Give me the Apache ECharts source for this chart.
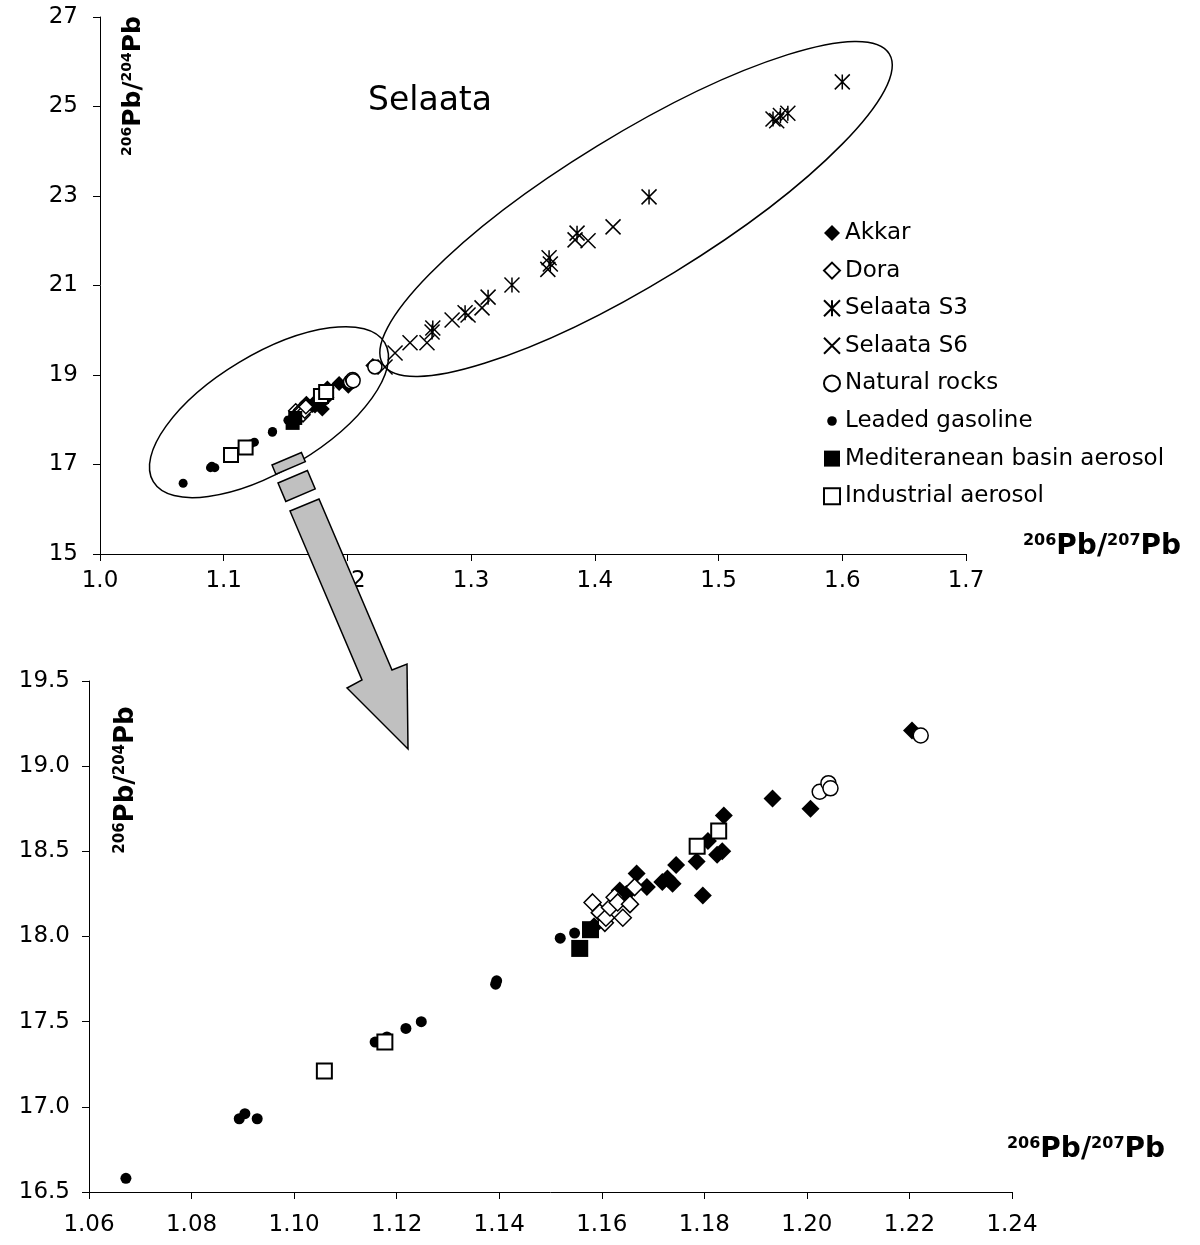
<!DOCTYPE html>
<html>
<head>
<meta charset="utf-8">
<title>Pb isotope ratios - Selaata</title>
<script src="https://cdn.jsdelivr.net/npm/echarts@6/dist/echarts.min.js"></script>
<style>
  html, body { margin: 0; padding: 0; background: #fff; }
  #chart { width: 1200px; height: 1245px; }
</style>
</head>
<body>
<div id="chart"></div>
<script>
// series names, in legend (and drawing) order
const seriesNames = ['Akkar', 'Dora', 'Selaata S3', 'Selaata S6', 'Natural rocks',
    'Leaded gasoline', 'Mediteranean basin aerosol', 'Industrial aerosol'];

// [206Pb/207Pb, 206Pb/204Pb]
const akkar = [
    [1.1585, 18.06], [1.1635, 18.27], [1.1648, 18.25], [1.1668, 18.37], [1.1688, 18.29],
    [1.1718, 18.32], [1.1728, 18.34], [1.1738, 18.31], [1.1745, 18.42], [1.1785, 18.44],
    [1.1797, 18.24], [1.1807, 18.56], [1.1825, 18.48], [1.1835, 18.50], [1.1838, 18.71],
    [1.1933, 18.81], [1.2007, 18.75], [1.2205, 19.21]
];
const dora = [
    [1.1582, 18.20], [1.1596, 18.14], [1.1606, 18.08], [1.1608, 18.11], [1.1616, 18.17],
    [1.1625, 18.23], [1.1631, 18.20], [1.1641, 18.11], [1.1655, 18.19], [1.1664, 18.29]
];
const selaataS3 = [
    [1.2684, 19.96], [1.2690, 20.05], [1.2951, 20.39], [1.3137, 20.74], [1.3330, 21.01],
    [1.3630, 21.62], [1.3640, 21.48], [1.3856, 22.17], [1.4438, 22.98], [1.5440, 24.72],
    [1.5500, 24.80], [1.5560, 24.85], [1.6000, 25.55]
];
const selaataS6 = [
    [1.2304, 19.18], [1.2385, 19.49], [1.2506, 19.72], [1.2643, 19.72], [1.2846, 20.23],
    [1.2975, 20.34], [1.3088, 20.50], [1.3620, 21.36], [1.3840, 22.02], [1.3945, 22.00],
    [1.4147, 22.31], [1.5470, 24.68]
];
const naturalRocks = [
    [1.2025, 18.85], [1.2042, 18.90], [1.2046, 18.87], [1.2222, 19.18]
];
const leadedGasoline = [
    [1.0672, 16.58], [1.0893, 16.93], [1.0904, 16.96], [1.0928, 16.93], [1.1158, 17.38],
    [1.1181, 17.41], [1.1218, 17.46], [1.1248, 17.50], [1.1393, 17.72], [1.1395, 17.74],
    [1.1519, 17.99], [1.1547, 18.02]
];
const medAerosol = [
    [1.1557, 17.93], [1.1578, 18.04]
];
const industrialAerosol = [
    [1.1059, 17.21], [1.1177, 17.38], [1.1786, 18.53], [1.1828, 18.62]
];

// tick labels
const topXTicks = [1.0, 1.1, 1.2, 1.3, 1.4, 1.5, 1.6, 1.7];
const topYTicks = [15, 17, 19, 21, 23, 25, 27];
const bottomXTicks = [1.06, 1.08, 1.10, 1.12, 1.14, 1.16, 1.18, 1.20, 1.22, 1.24];
const bottomYTicks = [16.5, 17.0, 17.5, 18.0, 18.5, 19.0, 19.5];

const seriesData = {
    'Akkar': akkar,
    'Dora': dora,
    'Selaata S3': selaataS3,
    'Selaata S6': selaataS6,
    'Natural rocks': naturalRocks,
    'Leaded gasoline': leadedGasoline,
    'Mediteranean basin aerosol': medAerosol,
    'Industrial aerosol': industrialAerosol
};

const FONT = 'DejaVu Sans';
const starPath = 'path://M0,0L20,20M20,0L0,20M10,0L10,20';
const crossPath = 'path://M0,0L20,20M20,0L0,20';
const noFill = 'rgba(0,0,0,0)';

// marker look: [top size, bottom size]
const markers = {
    'Akkar': { symbol: 'diamond', size: [15, 18], itemStyle: { color: '#000', opacity: 1 } },
    'Dora': { symbol: 'diamond', size: [14, 17], itemStyle: { color: '#fff', borderColor: '#000', borderWidth: 1.5, opacity: 1 } },
    'Selaata S3': { symbol: starPath, size: [15, 15], itemStyle: { color: noFill, borderColor: '#000', borderWidth: 1.5, opacity: 1 } },
    'Selaata S6': { symbol: crossPath, size: [15, 15], itemStyle: { color: noFill, borderColor: '#000', borderWidth: 1.5, opacity: 1 } },
    'Natural rocks': { symbol: 'circle', size: [14, 15], itemStyle: { color: '#fff', borderColor: '#000', borderWidth: 1.5, opacity: 1 } },
    'Leaded gasoline': { symbol: 'circle', size: [9, 11], itemStyle: { color: '#000', opacity: 1 } },
    'Mediteranean basin aerosol': { symbol: 'rect', size: [14, 17], itemStyle: { color: '#000', opacity: 1 } },
    'Industrial aerosol': { symbol: 'rect', size: [14, 15], itemStyle: { color: '#fff', borderColor: '#000', borderWidth: 2, opacity: 1 } }
};

const series = [];
// upper panel: all series
seriesNames.forEach(name => {
    const m = markers[name];
    series.push({
        name: name, type: 'scatter', xAxisIndex: 0, yAxisIndex: 0,
        symbol: m.symbol, symbolSize: m.size[0], itemStyle: m.itemStyle,
        data: seriesData[name]
    });
});
// lower panel: zoom without Selaata samples
seriesNames.filter(n => n.indexOf('Selaata') < 0).forEach(name => {
    const m = markers[name];
    series.push({
        name: name, type: 'scatter', xAxisIndex: 1, yAxisIndex: 1,
        symbol: m.symbol, symbolSize: m.size[1], itemStyle: m.itemStyle,
        data: seriesData[name]
    });
});

function valueAxis(grid, min, max, ticks, fmt, margin) {
    return {
        type: 'value', gridIndex: grid, min: min, max: max,
        axisLine: { show: true, onZero: false, lineStyle: { color: '#000', width: 1 } },
        axisTick: { show: true, inside: false, length: 7, lineStyle: { color: '#000' }, customValues: ticks },
        axisLabel: {
            color: '#000', fontFamily: FONT, fontSize: 23, margin: margin,
            customValues: ticks, formatter: fmt
        },
        splitLine: { show: false }
    };
}

// superscripted isotope ratio title
function ratioText(a, b, big, small) {
    return {
        text: '{s|' + a + '}{m|Pb/}{s|' + b + '}{m|Pb}',
        align: 'center', verticalAlign: 'middle', fill: '#000',
        rich: {
            m: { fontSize: big, fontWeight: 'bold', fontFamily: FONT, lineHeight: big, verticalAlign: 'bottom', fill: '#000' },
            s: { fontSize: small, fontWeight: 'bold', fontFamily: FONT, lineHeight: small, verticalAlign: 'top', fill: '#000' }
        }
    };
}

const option = {
    animation: false,
    backgroundColor: '#fff',
    grid: [
        { left: 100, top: 17, width: 866, height: 537 },
        { left: 89, top: 681, width: 923, height: 511 }
    ],
    xAxis: [
        valueAxis(0, 1.0, 1.7, topXTicks, v => v.toFixed(1), 16),
        valueAxis(1, 1.06, 1.24, bottomXTicks, v => v.toFixed(2), 22)
    ],
    yAxis: [
        valueAxis(0, 15, 27, topYTicks, v => String(v), 22),
        valueAxis(1, 16.5, 19.5, bottomYTicks, v => v.toFixed(1), 19)
    ],
    legend: {
        orient: 'vertical', left: 823, top: 221.5, padding: 0,
        itemWidth: 16, itemHeight: 16, itemGap: 14.6,
        selectedMode: false,
        textStyle: { color: '#000', fontFamily: FONT, fontSize: 23, lineHeight: 23 },
        data: seriesNames.map(n => n === 'Leaded gasoline'
            ? { name: n, icon: 'path://M0,0M20,20M10,4A6,6,0,1,1,10,16A6,6,0,1,1,10,4Z' }
            : { name: n })
    },
    series: series
};

const chart = echarts.init(document.getElementById('chart'));
chart.setOption(option);

// ellipses around the two groups (centres in data units of the upper panel)
const smallEllipseCenter = [1.1366, 18.17];
const bigEllipseCenter = [1.4333, 22.71];
const c1 = chart.convertToPixel({ gridIndex: 0 }, smallEllipseCenter);
const c2 = chart.convertToPixel({ gridIndex: 0 }, bigEllipseCenter);
const lineStyle = { fill: null, stroke: '#000', lineWidth: 1.5 };
const grey = { fill: '#c0c0c0', stroke: '#000', lineWidth: 1.5 };

chart.setOption({
    graphic: [
        { type: 'ellipse', x: c1[0], y: c1[1], rotation: 31 * Math.PI / 180, z: 50,
          shape: { cx: 0, cy: 0, rx: 135, ry: 58 }, style: lineStyle, silent: true },
        { type: 'ellipse', x: c2[0], y: c2[1], rotation: 31.5 * Math.PI / 180, z: 50,
          shape: { cx: 0, cy: 0, rx: 297, ry: 74 }, style: lineStyle, silent: true },
        // arrow from the small ellipse down to the zoomed panel
        { type: 'polygon', z: 100, silent: true, style: grey,
          shape: { points: [[272, 465], [301.4, 452.5], [305.3, 461.7], [275.9, 474.2]] } },
        { type: 'polygon', z: 100, silent: true, style: grey,
          shape: { points: [[278, 483], [307.4, 470.5], [315.2, 488.9], [285.8, 501.4]] } },
        { type: 'polygon', z: 100, silent: true, style: grey,
          shape: { points: [[290, 511], [319, 499], [392, 670], [407, 664], [408, 749], [347, 688], [362, 680]] } },
        { type: 'text', x: 430, y: 101, z: 100, silent: true,
          style: { text: 'Selaata', fontFamily: FONT, fontSize: 33, fill: '#000', align: 'center', verticalAlign: 'middle' } },
        // axis titles
        { type: 'text', x: 1102, y: 547, z: 100, silent: true, style: ratioText('206', '207', 28, 16) },
        { type: 'text', x: 1086, y: 1150, z: 100, silent: true, style: ratioText('206', '207', 28, 16) },
        { type: 'text', x: 133, y: 86, rotation: Math.PI / 2, z: 100, silent: true, style: ratioText('206', '204', 25, 14) },
        { type: 'text', x: 126, y: 780, rotation: Math.PI / 2, z: 100, silent: true, style: ratioText('206', '204', 26, 15) }
    ]
});

window.addEventListener('resize', () => chart.resize());
</script>
</body>
</html>
